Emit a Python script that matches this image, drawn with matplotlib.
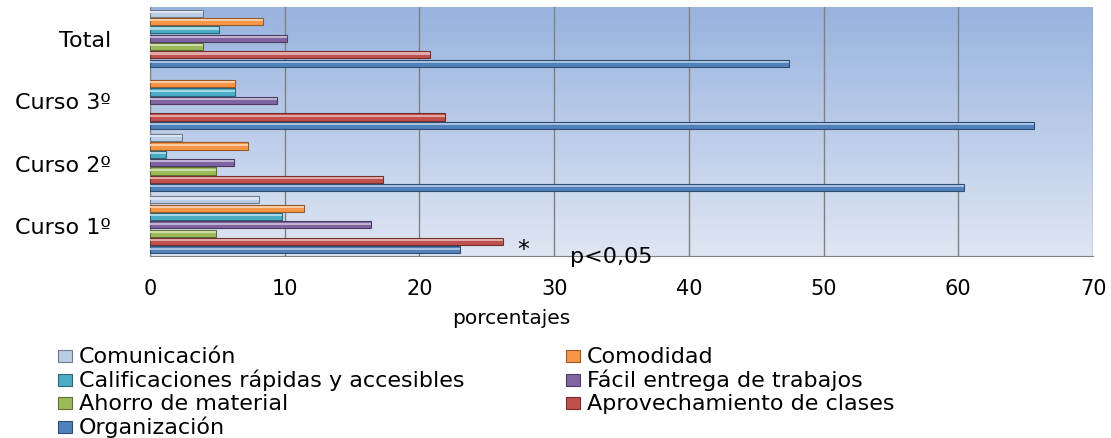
import numpy as np
import matplotlib
matplotlib.use('Agg')
from matplotlib import pyplot as plt
from matplotlib.patches import Rectangle
from matplotlib.colors import to_rgb

# categories bottom -> top
cursos = ['Curso 1º', 'Curso 2º', 'Curso 3º', 'Total']

# series in legend order (top bar of each group first)
series = ['Comunicación', 'Comodidad', 'Calificaciones rápidas y accesibles',
          'Fácil entrega de trabajos', 'Ahorro de material',
          'Aprovechamiento de clases', 'Organización']

comunicacion = [8.1, 2.4, 0, 3.9]
comodidad = [11.4, 7.3, 6.3, 8.4]
calificaciones = [9.8, 1.2, 6.3, 5.1]
facil = [16.4, 6.2, 9.4, 10.2]
ahorro = [4.9, 4.9, 0, 3.9]
aprovechamiento = [26.2, 17.3, 21.9, 20.8]
organizacion = [23.0, 60.4, 65.6, 47.4]

values = [comunicacion, comodidad, calificaciones, facil, ahorro,
          aprovechamiento, organizacion]

colors = ['#b9cde5', '#f79646', '#4bacc6', '#8064a2', '#9bbb59',
          '#c0504d', '#4f81bd']

W, H = 1111, 439
fig = plt.figure(figsize=(W / 100, H / 100), dpi=100)
ax = fig.add_axes([150/W, 182/H, 943/W, 249/H])

# gradient background of the plot area
grad = np.linspace(0, 1, 256).reshape(-1, 1, 1)
top = np.array(to_rgb('#98b3df'))
bot = np.array(to_rgb('#dfe6f3'))
img = top + (bot - top) * grad
ax.imshow(img, extent=[0, 1, 0, 1], transform=ax.transAxes, aspect='auto', zorder=0)

pitch = 0.134
thick = 0.115
y = np.arange(len(cursos))
for i, (name, vals, c) in enumerate(zip(series, values, colors)):
    off = (3 - i) * pitch
    dark = tuple(np.array(to_rgb(c)) * 0.6)
    light = tuple(np.array(to_rgb(c)) * 0.5 + 0.5)
    for yy, v in zip(y, vals):
        if v <= 0:
            continue
        ax.barh(yy + off, v, height=thick, color=c, edgecolor=dark, linewidth=0.8, zorder=3)
        ax.barh(yy + off + thick * 0.18, v, height=thick * 0.3, color=light,
                linewidth=0, zorder=4)

ax.set_xlim(0, 70)
ax.set_ylim(-0.5, 3.5)
ax.set_xticks(range(0, 71, 10))
ax.set_yticks(y)
ax.set_yticklabels(cursos, fontsize=16, family='DejaVu Sans')
for lab in ax.get_xticklabels():
    lab.set_fontsize(15)
ax.tick_params(axis='y', length=0, pad=28)
ax.tick_params(axis='x', length=0, pad=16)
ax.xaxis.grid(True, color='#808080', linewidth=1, zorder=1)
ax.set_axisbelow(True)
for s in ['top', 'right']:
    ax.spines[s].set_visible(False)
ax.spines['left'].set_color('#808080')
ax.spines['bottom'].set_color('#808080')
ax.set_xlabel('porcentajes', fontsize=14.5)
ax.xaxis.set_label_coords((511 - 150) / 943, -(318 - 257) / 249)
ax.xaxis.label.set_va('center')

ax.text(27.7, 0.03, '*', transform=ax.get_xaxis_transform(), fontsize=17,
        ha='center', va='center', clip_on=False, zorder=5)
ax.text(31.2, 0.0, 'p<0,05', transform=ax.get_xaxis_transform(), fontsize=16,
        ha='left', va='center', clip_on=False, zorder=5)

# legend drawn by hand: two columns, filled row by row
col_x = [58, 566]
for k, (name, c) in enumerate(zip(series, colors)):
    bx = col_x[k % 2]
    by = 357 + (k // 2) * 23.5
    dark = tuple(np.array(to_rgb(c)) * 0.6)
    fig.add_artist(Rectangle((bx / W, 1 - (by + 6) / H), 14 / W, 12 / H,
                             transform=fig.transFigure, facecolor=c,
                             edgecolor=dark, linewidth=0.8))
    fig.text((bx + 21) / W, 1 - by / H, name, fontsize=16, va='center', ha='left')

fig.savefig('out.png', dpi=100)
